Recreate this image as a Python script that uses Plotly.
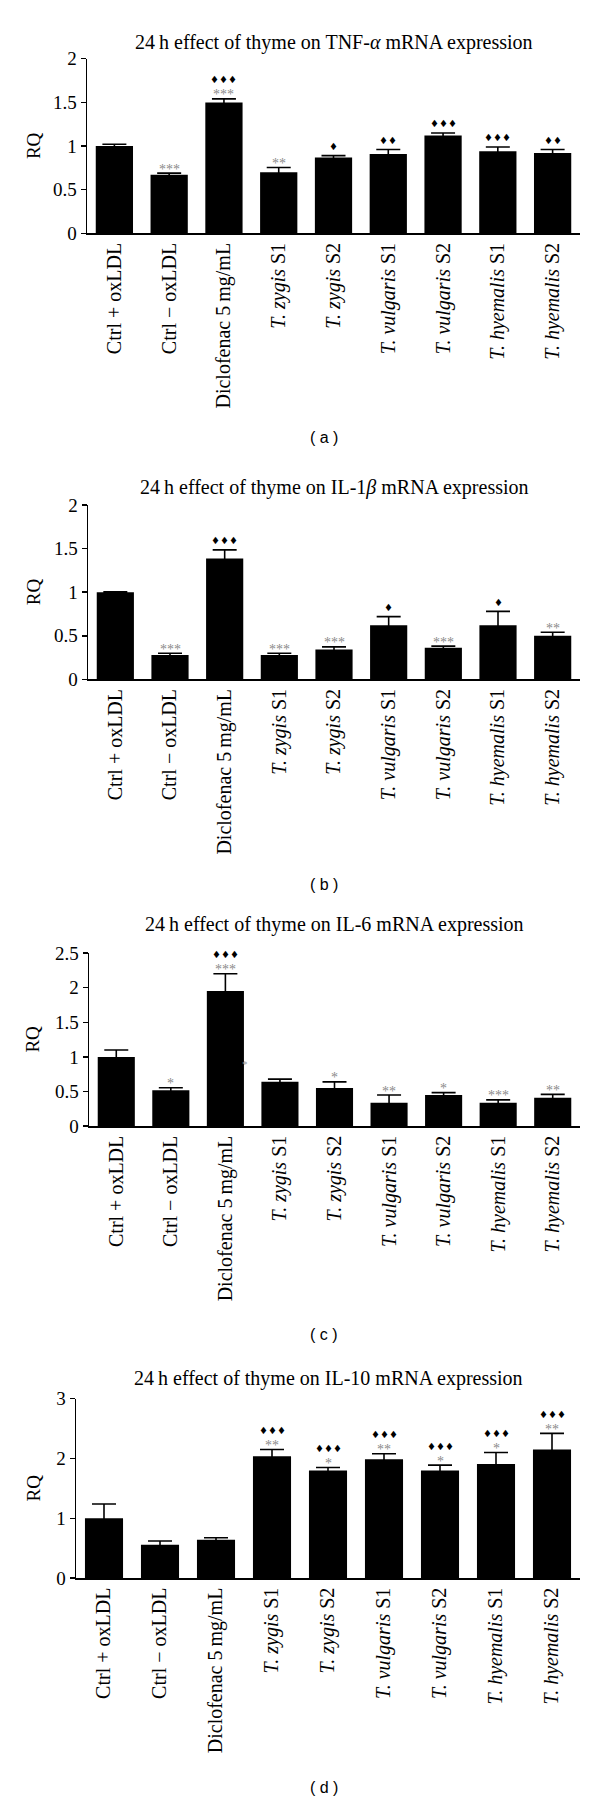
import plotly.graph_objects as go

W, H = 600, 1813

categories = ["Ctrl + oxLDL", "Ctrl \u2212 oxLDL", "Diclofenac 5\u2009mg/mL",
              "<i>T. zygis</i> S1", "<i>T. zygis</i> S2",
              "<i>T. vulgaris</i> S1", "<i>T. vulgaris</i> S2",
              "<i>T. hyemalis</i> S1", "<i>T. hyemalis</i> S2"]

# Panel (a) TNF-alpha
tnf_vals = [1.00, 0.67, 1.50, 0.70, 0.87, 0.91, 1.12, 0.94, 0.92]
tnf_err = [0.02, 0.02, 0.04, 0.055, 0.02, 0.05, 0.03, 0.05, 0.04]
tnf_stars = ["", "***", "***", "**", "", "", "", "", ""]
tnf_diam = ["", "", "♦♦♦", "", "♦", "♦♦", "♦♦♦", "♦♦♦", "♦♦"]

# Panel (b) IL-1beta
il1_vals = [1.00, 0.28, 1.385, 0.28, 0.343, 0.62, 0.362, 0.62, 0.50]
il1_err = [0.005, 0.02, 0.10, 0.02, 0.03, 0.10, 0.02, 0.16, 0.04]
il1_stars = ["", "***", "", "***", "***", "", "***", "", "**"]
il1_diam = ["", "", "♦♦♦", "", "", "♦", "", "♦", ""]

# Panel (c) IL-6
il6_vals = [1.00, 0.52, 1.95, 0.64, 0.55, 0.34, 0.45, 0.34, 0.41]
il6_err = [0.10, 0.035, 0.25, 0.04, 0.09, 0.11, 0.035, 0.04, 0.05]
il6_stars = ["", "*", "***", "", "*", "**", "*", "***", "**"]
il6_diam = ["", "", "♦♦♦", "", "", "", "", "", ""]

# Panel (d) IL-10
il10_vals = [1.00, 0.56, 0.64, 2.04, 1.80, 1.99, 1.80, 1.91, 2.15]
il10_err = [0.24, 0.06, 0.035, 0.11, 0.05, 0.09, 0.09, 0.19, 0.27]
il10_stars = ["", "", "", "**", "*", "**", "*", "*", "**"]
il10_diam = ["", "", "", "♦♦♦", "♦♦♦", "♦♦♦", "♦♦♦", "♦♦♦", "♦♦♦"]

titles = ["24\u2009h effect of thyme on TNF-<i>α</i> mRNA expression",
          "24\u2009h effect of thyme on IL-1<i>β</i> mRNA expression",
          "24\u2009h effect of thyme on IL-6 mRNA expression",
          "24\u2009h effect of thyme on IL-10 mRNA expression"]
letters = ["( a )", "( b )", "( c )", "( d )"]
y_max = [2, 2, 2.5, 3]
y_dtick = [0.5, 0.5, 0.5, 1]

# layout geometry in pixels: (x_left, x_right, y_top_px, y_zero_px, title_y, letter_y)
geom = [
    (87, 580, 49.3, 226.0, 33, 433),
    (88, 580, 500.7, 677.3, 483, 885),
    (89, 580, 954.0, 1129.3, 925, 1340),
    (76, 580, 1405.0, 1586.5, 1385, 1798),
]

panels = [
    (tnf_vals, tnf_err, tnf_stars, tnf_diam),
    (il1_vals, il1_err, il1_stars, il1_diam),
    (il6_vals, il6_err, il6_stars, il6_diam),
    (il10_vals, il10_err, il10_stars, il10_diam),
]

SERIF = "Liberation Serif"
fig = go.Figure()
annotations = []
xs = list(range(len(categories)))

def py(p):
    return 1 - p / H

for i, ((vals, errs, stars, diams), g) in enumerate(zip(panels, geom)):
    n = "" if i == 0 else str(i + 1)
    xa, ya = "x" + n, "y" + n
    xl, xr, yt, yz, ty, ly = g
    fig.add_trace(go.Bar(
        x=xs, y=vals, xaxis=xa, yaxis=ya, width=0.68,
        marker=dict(color="black", line=dict(width=0)),
        error_y=dict(type="data", array=errs, visible=True, color="black",
                     thickness=1.6, width=12),
        showlegend=False, hoverinfo="skip"))
    fig.layout["xaxis" + n] = dict(
        domain=[xl / W, xr / W], anchor=ya, range=[-0.5, 8.5],
        tickvals=xs, ticktext=categories, tickangle=-90,
        tickfont=dict(family=SERIF, size=20, color="black"),
        showline=True, linecolor="black", linewidth=1.5, ticks="",
        showgrid=False, zeroline=False, fixedrange=True)
    fig.layout["yaxis" + n] = dict(
        domain=[py(yz), py(yt)], anchor=xa, range=[0, y_max[i]], dtick=y_dtick[i],
        tickfont=dict(family=SERIF, size=19, color="black"),
        showline=True, linecolor="black", linewidth=1.5, ticks="outside",
        ticklen=5, tickwidth=1.5, tickcolor="black",
        showgrid=False, zeroline=False, fixedrange=True)
    for k in xs:
        top = vals[k] + errs[k]
        if stars[k]:
            annotations.append(dict(x=k, y=top, xref=xa, yref=ya, text=stars[k],
                                    showarrow=False, yanchor="middle", yshift=4,
                                    font=dict(family=SERIF, size=14, color="#8a8a8a")))
        if diams[k]:
            shift = 19 if stars[k] else 9
            annotations.append(dict(x=k, y=top, xref=xa, yref=ya, text=diams[k],
                                    showarrow=False, yanchor="middle", yshift=shift,
                                    font=dict(family="DejaVu Sans", size=10, color="black")))
    cx = (xl + xr) / 2 / W
    annotations.append(dict(x=cx, y=py(ty), xref="paper", yref="paper", text=titles[i],
                            showarrow=False, xanchor="center", yanchor="middle",
                            font=dict(family=SERIF, size=20, color="black")))
    annotations.append(dict(x=33 / W, y=py((yt + yz) / 2), xref="paper", yref="paper",
                            text="RQ", textangle=-90, showarrow=False,
                            xanchor="center", yanchor="middle",
                            font=dict(family=SERIF, size=19, color="black")))
    annotations.append(dict(x=324 / W, y=py(ly), xref="paper", yref="paper",
                            text=letters[i], showarrow=False,
                            xanchor="center", yanchor="middle",
                            font=dict(family="Liberation Sans", size=16, color="black")))

# stray faint asterisk next to Diclofenac bar in panel (c)
annotations.append(dict(x=2.36, y=0.90, xref="x3", yref="y3", text="*", showarrow=False,
                        yanchor="middle", font=dict(family=SERIF, size=11, color="#9a9a9a")))

fig.update_layout(width=W, height=H, margin=dict(l=0, r=0, t=0, b=0),
                  paper_bgcolor="white", plot_bgcolor="white",
                  annotations=annotations, bargap=0.3)

fig.write_html("out.html",
               config={"displayModeBar": False, "staticPlot": True},
               post_script="document.body.style.margin='0';"
                           "document.body.style.padding='0';"
                           "document.body.style.overflow='hidden';")
